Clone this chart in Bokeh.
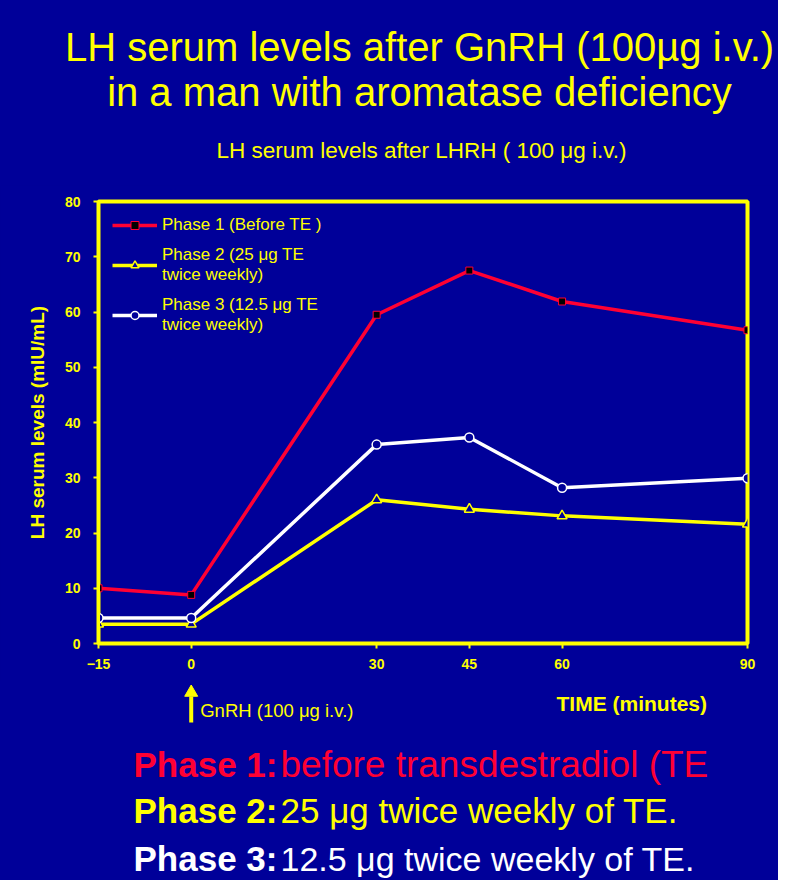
from bokeh.plotting import figure
from bokeh.layouts import column
from bokeh.models import Range1d, FixedTicker, Legend, LegendItem
from bokeh.core.properties import value
from bokeh.embed import file_html
from bokeh.resources import INLINE

# ---------------- data ----------------
time_min = [-15, 0, 30, 45, 60, 90]
phase1 = [10.0, 8.8, 59.5, 67.5, 61.9, 56.7]
phase2 = [3.5, 3.5, 26.0, 24.3, 23.1, 21.6]
phase3 = [4.6, 4.6, 36.0, 37.3, 28.2, 29.9]
y_ticks = [0, 10, 20, 30, 40, 50, 60, 70, 80]
gnrh_time = 0

title_lines = ["LH serum levels after GnRH (100\u00b5g i.v.)",
               "in a man with aromatase deficiency"]
subtitle = "LH serum levels after LHRH ( 100 \u03bcg i.v.)"
legend_labels = ["Phase 1 (Before TE )",
                 "Phase 2 (25 \u03bcg TE\ntwice weekly)",
                 "Phase 3 (12.5 \u03bcg TE\ntwice weekly)"]
phase_heads = ["Phase 1:", "Phase 2:", "Phase 3:"]
phase_texts = ["before transdestradiol (TE",
               "25 \u03bcg twice weekly of TE.",
               "12.5 \u03bcg twice weekly of TE."]
x_label = "TIME (minutes)"
y_label = "LH serum levels (mIU/mL)"
gnrh_label = "GnRH (100 \u03bcg i.v.)"

BG = "#000099"
YEL = "#FFFF00"
RED = "#FF0033"
WHITE = "#FFFFFF"
FONT = value("Liberation Sans")
W = 778

# main frame geometry (pixels)
X0, X1 = -15, 90
FL, FR = 98, 747


def blank(h):
    f = figure(width=W, height=h, x_range=Range1d(0, W), y_range=Range1d(h, 0),
               x_axis_location=None, y_axis_location=None,
               toolbar_location=None, output_backend="svg", min_border=0)
    f.grid.visible = False
    f.outline_line_color = None
    f.background_fill_color = BG
    f.border_fill_color = BG
    f.frame_align = False
    return f

# ---------------- header ----------------
HH = 185
head = blank(HH)
head.text(x=[419, 419], y=[46, 91], text=title_lines, text_font=FONT,
          text_font_size="40px", text_color=YEL, text_align="center",
          text_baseline="middle")
head.text(x=[421], y=[150], text=[subtitle], text_font=FONT,
          text_font_size="22.5px", text_color=YEL, text_align="center",
          text_baseline="middle")

# ---------------- main plot ----------------
MH = 495
p = figure(width=W, height=MH, x_range=Range1d(X0, X1), y_range=Range1d(0, 80),
           toolbar_location=None, output_backend="svg",
           min_border_left=FL, min_border_right=W - FR, min_border_top=16,
           min_border_bottom=37)
p.frame_align = False
p.background_fill_color = BG
p.border_fill_color = BG
p.grid.visible = False
p.outline_line_color = YEL
p.outline_line_width = 4

p.xaxis.ticker = FixedTicker(ticks=time_min)
p.yaxis.ticker = FixedTicker(ticks=y_ticks)
for ax in p.axis:
    ax.axis_line_color = YEL
    ax.axis_line_width = 3
    ax.major_tick_line_color = YEL
    ax.major_tick_line_width = 2
    ax.major_tick_out = 5
    ax.major_tick_in = 0
    ax.minor_tick_line_color = None
    ax.major_label_text_color = YEL
    ax.major_label_text_font = "Liberation Sans"
    ax.major_label_text_font_size = "14px"
    ax.major_label_text_font_style = "bold"
p.xaxis.major_label_standoff = 10
p.yaxis.major_label_standoff = 13
p.yaxis.axis_label = y_label
p.yaxis.axis_label_text_color = YEL
p.yaxis.axis_label_text_font = "Liberation Sans"
p.yaxis.axis_label_text_font_size = "19px"
p.yaxis.axis_label_text_font_style = "bold"
p.yaxis.axis_label_standoff = 14

l1 = p.line(time_min, phase1, line_color=RED, line_width=3.5)
m1 = p.scatter(time_min, phase1, marker="square", size=7, fill_color="black",
               line_color=RED, line_width=1)
l2 = p.line(time_min, phase2, line_color=YEL, line_width=3.5)
m2 = p.scatter(time_min, phase2, marker="triangle", size=10, fill_color=BG,
               line_color=YEL, line_width=1.5)
l3 = p.line(time_min, phase3, line_color=WHITE, line_width=3.5)
m3 = p.scatter(time_min, phase3, marker="circle", size=9, fill_color=BG,
               line_color=WHITE, line_width=1.5)

legend = Legend(items=[LegendItem(label=legend_labels[0], renderers=[l1, m1]),
                       LegendItem(label=legend_labels[1], renderers=[l2, m2]),
                       LegendItem(label=legend_labels[2], renderers=[l3, m3])],
                location="top_left")
legend.background_fill_alpha = 0
legend.border_line_alpha = 0
legend.label_text_color = YEL
legend.label_text_font = "Liberation Sans"
legend.label_text_font_size = "17px"
legend.glyph_width = 45
legend.label_standoff = 5
legend.spacing = 10
legend.margin = 10
legend.padding = 4
p.add_layout(legend)

# ---------------- footer ----------------
FH = 200
foot = blank(FH)
ax_x = FL + (gnrh_time - X0) / (X1 - X0) * (FR - FL)
foot.segment(x0=[ax_x], y0=[42], x1=[ax_x], y1=[16], line_color=YEL, line_width=4)
foot.scatter(x=[ax_x], y=[12], marker="triangle", size=13, fill_color=YEL,
             line_color=YEL)
foot.text(x=[ax_x + 9], y=[30], text=[gnrh_label], text_font=FONT,
          text_font_size="18.5px", text_color=YEL, text_baseline="middle")
foot.text(x=[556], y=[23], text=[x_label], text_font=FONT,
          text_font_size="21px", text_font_style="bold", text_color=YEL,
          text_baseline="middle")

cols = [RED, YEL, WHITE]
ys = [84, 130, 178]
sizes = ["37px", "35px", "34px"]
foot.text(x=[133, 133, 133], y=ys, text=phase_heads, text_font=FONT,
          text_font_size="35px", text_font_style="bold", text_color=cols,
          text_baseline="middle")
for i in range(3):
    foot.text(x=[280], y=[ys[i]], text=[phase_texts[i]], text_font=FONT,
              text_font_size=sizes[i], text_color=cols[i], text_baseline="middle")

layout = column(head, p, foot, spacing=0, styles={"background-color": BG})
open("out.html", "w").write(file_html(layout, INLINE))
